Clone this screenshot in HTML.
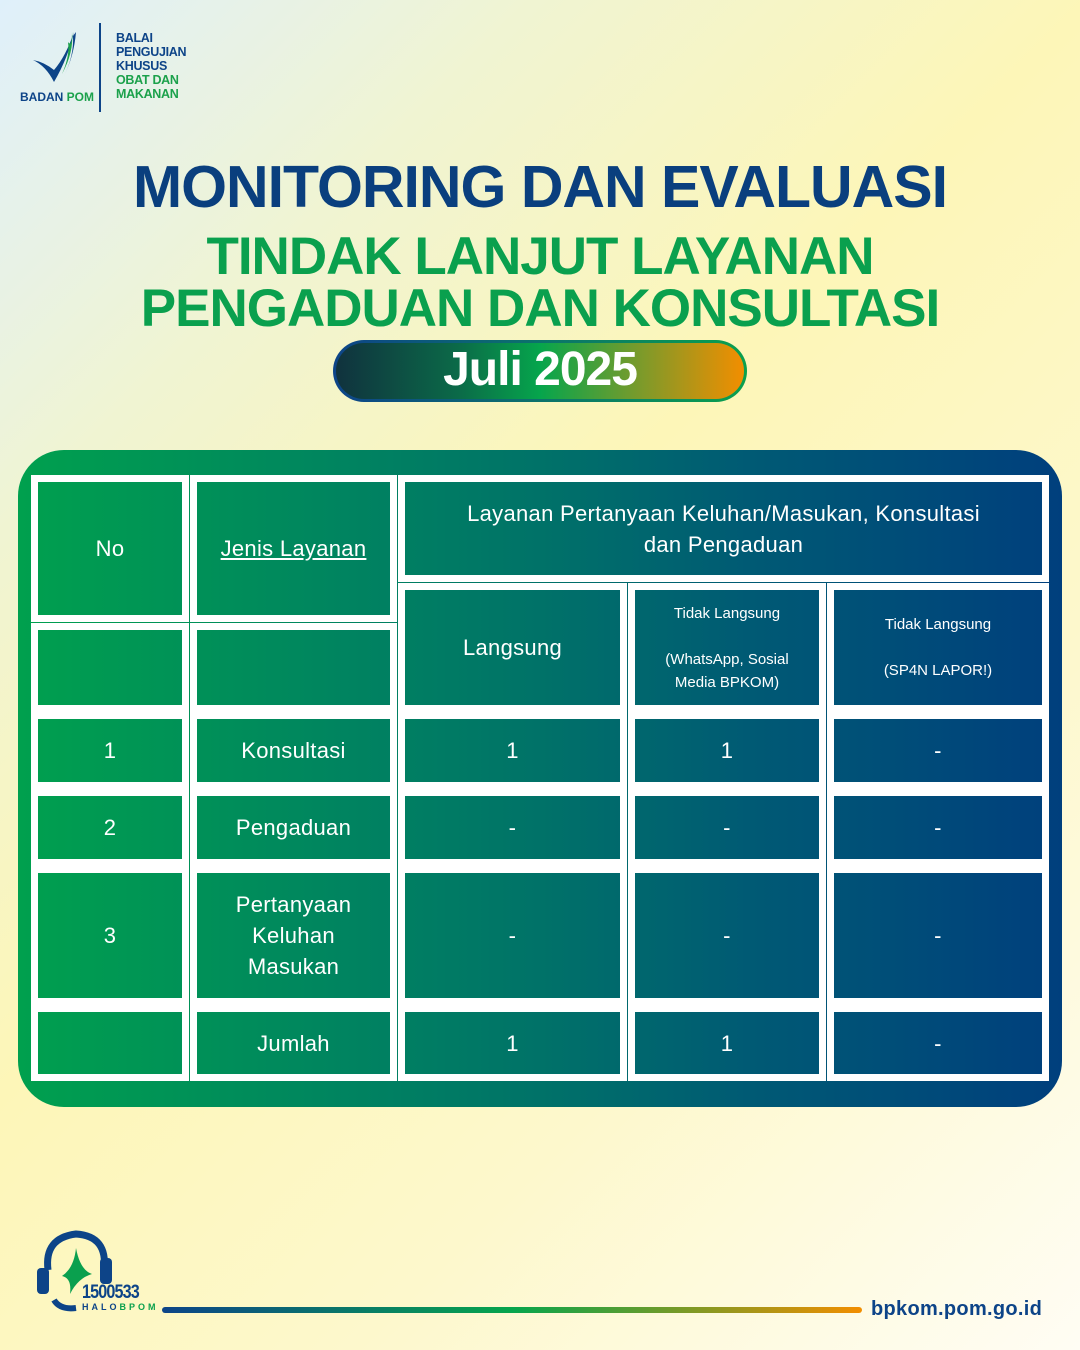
<!DOCTYPE html>
<html><head><meta charset="utf-8"><style>
*{margin:0;padding:0;box-sizing:border-box}
body{width:1080px;height:1350px;position:relative;overflow:hidden;font-family:"Liberation Sans",sans-serif;
background:linear-gradient(135deg,#dff0fb 0%,#f0f4d2 22%,#fdf6b8 45%,#fdf8cc 70%,#fffdf4 100%);}
.a{position:absolute}
.t{position:absolute;left:0;width:1080px;text-align:center;font-weight:bold;letter-spacing:-1px}
.tbl{position:absolute;left:18px;top:450px;width:1044px;height:657px;border-radius:46px;
background:linear-gradient(90deg,#00a04e 0%,#00855f 30%,#007268 50%,#005a74 70%,#003f7d 100%)}
.c{position:absolute;border:7px solid #fff;display:flex;align-items:center;justify-content:center;text-align:center;color:#fff;font-size:22px;letter-spacing:0.3px;line-height:31px}
.s{font-size:15px;line-height:23px;letter-spacing:0}
</style></head><body>
<!-- logo -->
<svg class="a" style="left:28px;top:28px" width="60" height="60" viewBox="0 0 60 60">
<path d="M5 32 Q18 38 26 54 Q40 30 46 4 Q38 28 26 42 Q16 34 5 32Z" fill="#0d4488"/>
<path d="M40 14 Q44 20 44 4 Q46 24 34 46 Q42 28 40 14Z" fill="#1ba14b"/>
<path d="M45 8 L48 4 Q46 28 36 48 Q46 28 45 8Z" fill="#0d4488"/>
</svg>
<div class="a" style="left:20px;top:90px;font-size:12px;font-weight:bold;color:#0d4488">BADAN <span style="color:#1ba14b">POM</span></div>
<div class="a" style="left:99px;top:23px;width:2px;height:89px;background:#0d4488"></div>
<div class="a" style="left:116px;top:31px;font-size:12.5px;font-weight:bold;line-height:14px;color:#0d4488;letter-spacing:-0.3px">BALAI<br>PENGUJIAN<br>KHUSUS<br><span style="color:#1ba14b">OBAT DAN<br>MAKANAN</span></div>
<!-- titles -->
<div class="t" style="top:153px;font-size:59px;color:#0a3f7e">MONITORING DAN EVALUASI</div>
<div class="t" style="top:226px;font-size:53px;color:#0aa04e">TINDAK LANJUT LAYANAN</div>
<div class="t" style="top:278px;font-size:53px;color:#0aa04e">PENGADUAN DAN KONSULTASI</div>
<div class="a" style="left:333px;top:340px;width:414px;height:62px;border-radius:31px;padding:3px;background:linear-gradient(90deg,#0d4488,#0aa04e)">
<div style="width:100%;height:100%;border-radius:28px;background:linear-gradient(90deg,#10323e 0%,#0b6a48 30%,#06a54c 50%,#7d9a2a 75%,#f28e00 100%);color:#fff;font-size:48px;font-weight:bold;text-align:center;line-height:54px;letter-spacing:-1px">Juli 2025</div></div>
<!-- table -->
<div class="tbl"></div>
<div class="c" style="left:31px;top:475px;width:158px;height:147px">No</div>
<div class="c" style="left:190px;top:475px;width:207px;height:147px"><u>Jenis Layanan</u></div>
<div class="c" style="left:398px;top:475px;width:651px;height:107px">Layanan Pertanyaan Keluhan/Masukan, Konsultasi<br>dan Pengaduan</div>
<div class="c" style="left:31px;top:623px;width:158px;height:89px"></div>
<div class="c" style="left:190px;top:623px;width:207px;height:89px"></div>
<div class="c" style="left:398px;top:583px;width:229px;height:129px">Langsung</div>
<div class="c s" style="left:628px;top:583px;width:198px;height:129px;align-items:flex-start;padding-top:12px">Tidak Langsung<br><br>(WhatsApp, Sosial<br>Media BPKOM)</div>
<div class="c s" style="left:827px;top:583px;width:222px;height:129px">Tidak Langsung<br><br>(SP4N LAPOR!)</div>

<div class="c" style="left:31px;top:712px;width:158px;height:77px">1</div>
<div class="c" style="left:190px;top:712px;width:207px;height:77px">Konsultasi</div>
<div class="c" style="left:398px;top:712px;width:229px;height:77px">1</div>
<div class="c" style="left:628px;top:712px;width:198px;height:77px">1</div>
<div class="c" style="left:827px;top:712px;width:222px;height:77px">-</div>

<div class="c" style="left:31px;top:789px;width:158px;height:77px">2</div>
<div class="c" style="left:190px;top:789px;width:207px;height:77px">Pengaduan</div>
<div class="c" style="left:398px;top:789px;width:229px;height:77px">-</div>
<div class="c" style="left:628px;top:789px;width:198px;height:77px">-</div>
<div class="c" style="left:827px;top:789px;width:222px;height:77px">-</div>

<div class="c" style="left:31px;top:866px;width:158px;height:139px">3</div>
<div class="c" style="left:190px;top:866px;width:207px;height:139px">Pertanyaan<br>Keluhan<br>Masukan</div>
<div class="c" style="left:398px;top:866px;width:229px;height:139px">-</div>
<div class="c" style="left:628px;top:866px;width:198px;height:139px">-</div>
<div class="c" style="left:827px;top:866px;width:222px;height:139px">-</div>

<div class="c" style="left:31px;top:1005px;width:158px;height:76px"></div>
<div class="c" style="left:190px;top:1005px;width:207px;height:76px">Jumlah</div>
<div class="c" style="left:398px;top:1005px;width:229px;height:76px">1</div>
<div class="c" style="left:628px;top:1005px;width:198px;height:76px">1</div>
<div class="c" style="left:827px;top:1005px;width:222px;height:76px">-</div>
<!-- footer -->
<svg class="a" style="left:34px;top:1230px" width="90" height="85" viewBox="0 0 90 85">
<path d="M14 40 Q10 8 42 4 Q74 6 70 40" fill="none" stroke="#0d4488" stroke-width="7"/>
<rect x="3" y="38" width="12" height="26" rx="4" fill="#0d4488"/>
<rect x="66" y="28" width="12" height="26" rx="4" fill="#0d4488"/>
<path d="M20 70 Q26 80 42 78" fill="none" stroke="#0d4488" stroke-width="6"/>
<path d="M42 18 Q40 38 28 46 Q38 48 36 64 Q44 48 58 44 Q46 40 42 18Z" fill="#0aa04e"/>
</svg>
<div class="a" style="left:82px;top:1282px;font-size:19px;font-weight:bold;color:#0d4488;letter-spacing:-1px;transform:scaleX(0.85);transform-origin:left">1500533</div>
<div class="a" style="left:82px;top:1302px;font-size:9px;font-weight:bold;color:#0d4488;letter-spacing:3px">HALO<span style="color:#0aa04e">BPOM</span></div>
<div class="a" style="left:162px;top:1307px;width:700px;height:6px;border-radius:3px;background:linear-gradient(90deg,#0d4488,#06a54c 50%,#f28e00)"></div>
<div class="a" style="left:871px;top:1298px;font-size:20px;font-weight:bold;color:#0d4488;letter-spacing:0.3px">bpkom.pom.go.id</div>
</body></html>
